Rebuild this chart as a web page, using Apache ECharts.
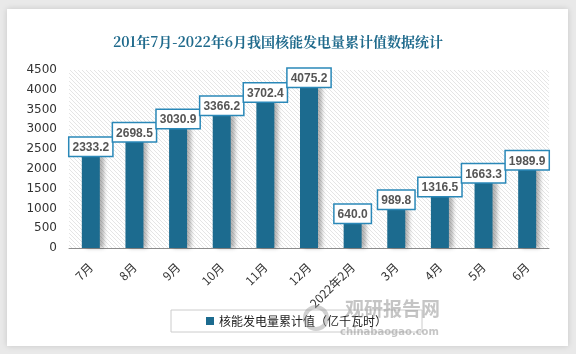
<!DOCTYPE html>
<html>
<head>
<meta charset="utf-8">
<script src="https://cdn.jsdelivr.net/npm/echarts@6/dist/echarts.min.js"></script>
<style>
  html, body { margin: 0; padding: 0; background: #e9e9e9; }
  #chart { width: 576px; height: 354px; }
</style>
</head>
<body>
<div id="chart"></div>
<script>
const months = ['7月', '8月', '9月', '10月', '11月', '12月', '2022年2月', '3月', '4月', '5月', '6月'];
const values = [2333.2, 2698.5, 3030.9, 3366.2, 3702.4, 4075.2, 640.0, 989.8, 1316.5, 1663.3, 1989.9];
const yTicks = [0, 500, 1000, 1500, 2000, 2500, 3000, 3500, 4000, 4500];
const seriesName = '核能发电量累计值（亿千瓦时）';
const titleText = '201年7月-2022年6月我国核能发电量累计值数据统计';

// diagonal hatch for the plot background
function makeHatch() {
    const c = document.createElement('canvas');
    c.width = 4; c.height = 4;
    const ctx = c.getContext('2d');
    ctx.fillStyle = '#ffffff';
    ctx.fillRect(0, 0, 4, 4);
    ctx.strokeStyle = '#dedede';
    ctx.lineWidth = 0.8;
    ctx.beginPath();
    ctx.moveTo(-1, -1); ctx.lineTo(5, 5);
    ctx.moveTo(-1, 3); ctx.lineTo(1, 5);
    ctx.moveTo(3, -1); ctx.lineTo(5, 1);
    ctx.stroke();
    return c;
}

const chart = echarts.init(document.getElementById('chart'));

chart.setOption({
    backgroundColor: '#e9e9e9',
    animation: false,
    graphic: [
        {
            type: 'rect', z: -10,
            shape: { x: 7, y: 9, width: 561, height: 337 },
            style: { fill: '#ffffff', shadowBlur: 6, shadowColor: 'rgba(0,0,0,0.15)' }
        },
        {
            type: 'text', left: 345, top: 299, z: 10,
            style: { text: '观研报告网', fill: 'rgba(150,150,150,0.55)', font: 'bold 19px "Noto Sans CJK SC"' }
        },
        {
            type: 'text', left: 340, top: 327, z: 10,
            style: { text: 'chinabaogao.com', fill: 'rgba(150,150,150,0.55)', font: 'bold 10px "DejaVu Sans"' }
        },
        {
            type: 'circle', z: 10,
            shape: { cx: 316, cy: 318, r: 11 },
            style: { fill: 'none', stroke: 'rgba(150,150,150,0.45)', lineWidth: 4 }
        }
    ],
    title: {
        text: titleText,
        left: 108,
        top: 30,
        textStyle: {
            color: '#1f6a8c',
            fontSize: 14,
            fontWeight: 'bold',
            fontFamily: '"Noto Serif CJK SC", "Noto Sans CJK SC", serif'
        }
    },
    legend: {
        left: 171,
        top: 310,
        padding: [5, 35, 5, 35],
        borderColor: '#cccccc',
        borderWidth: 1,
        itemWidth: 8,
        itemHeight: 8,
        itemGap: 4,
        icon: 'rect',
        textStyle: { color: '#222', fontSize: 12, fontFamily: '"Noto Sans CJK SC"' },
        data: [seriesName]
    },
    grid: {
        left: 69,
        right: 27,
        top: 70,
        bottom: 106,
        show: true,
        borderWidth: 0,
        backgroundColor: { image: makeHatch(), repeat: 'repeat' }
    },
    xAxis: {
        type: 'category',
        data: months,
        axisLine: { lineStyle: { color: '#8c8c8c', width: 1 } },
        axisTick: { show: false },
        axisLabel: {
            rotate: 45,
            color: '#333',
            fontSize: 12,
            margin: 17,
            interval: 0,
            fontFamily: '"Noto Sans CJK SC"'
        }
    },
    yAxis: {
        type: 'value',
        min: yTicks[0],
        max: yTicks[yTicks.length - 1],
        interval: 500,
        axisLine: { show: false },
        axisTick: { show: false },
        splitLine: { show: false },
        axisLabel: {
            color: '#333',
            fontSize: 12,
            margin: 12,
            fontFamily: '"DejaVu Sans"',
            formatter: v => String(v)
        }
    },
    series: [{
        name: seriesName,
        type: 'bar',
        data: values,
        barWidth: 18,
        itemStyle: {
            color: '#1c6b8f',
            shadowColor: 'rgba(0,0,0,0.3)',
            shadowBlur: 4,
            shadowOffsetX: 4,
            shadowOffsetY: 0
        },
        label: {
            show: true,
            position: 'top',
            distance: 0,
            formatter: p => p.value.toFixed(1),
            color: '#555',
            fontSize: 12,
            fontWeight: 'bold',
            fontFamily: '"Liberation Sans"',
            backgroundColor: '#ffffff',
            borderColor: '#2a88b8',
            borderWidth: 1.5,
            padding: [4, 3, 2, 3]
        }
    }]
});
</script>
</body>
</html>
